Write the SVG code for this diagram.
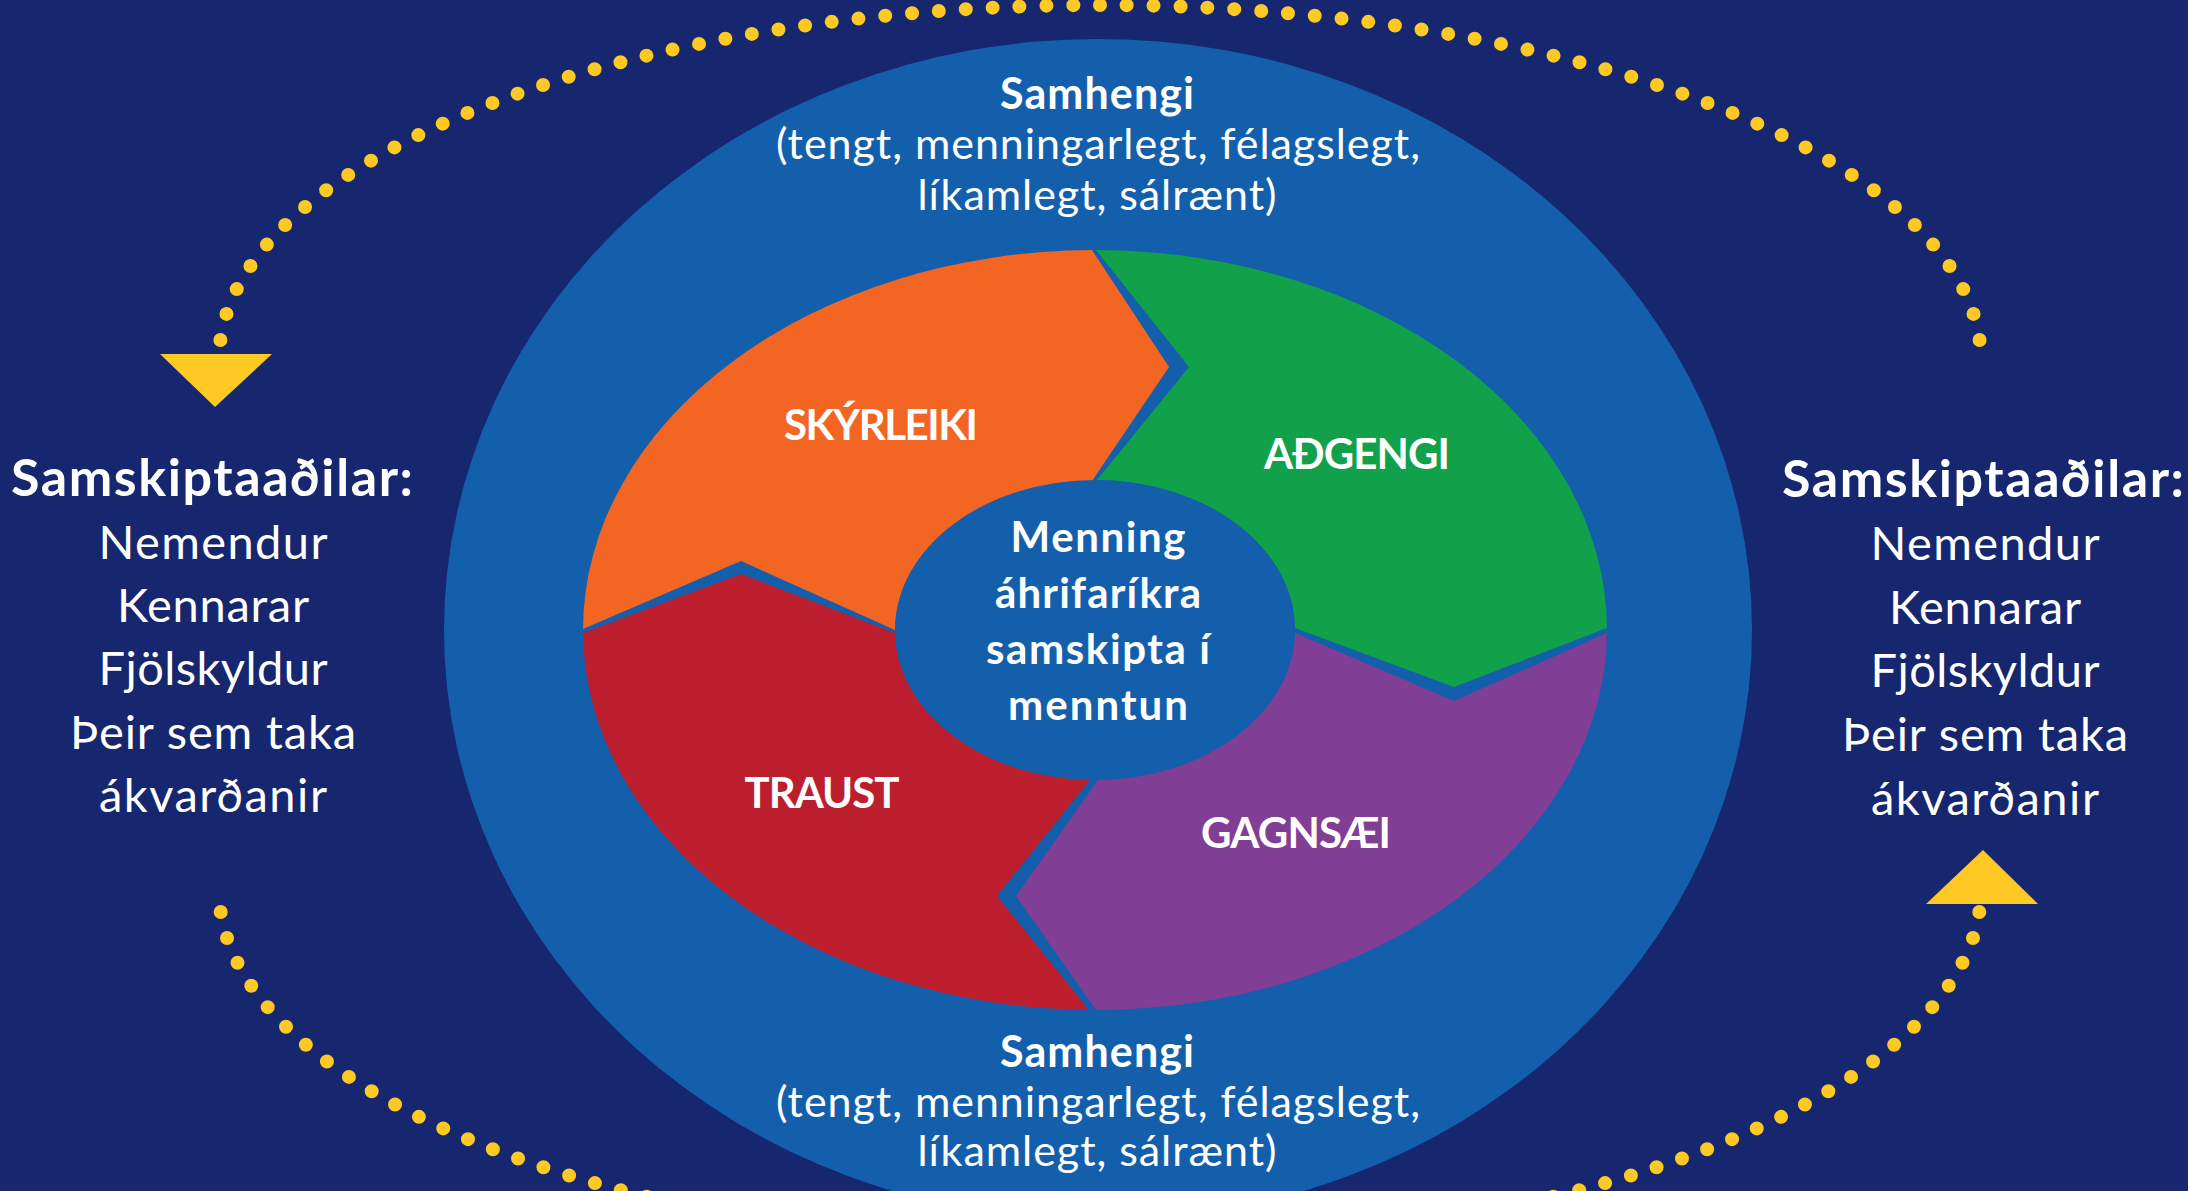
<svg xmlns="http://www.w3.org/2000/svg" width="2188" height="1191" viewBox="0 0 2188 1191">
<style>
  text { font-family: Lato, "Open Sans", "Liberation Sans", sans-serif; fill: #ffffff; text-anchor: middle; }
  .ctxb { font-size: 43px; font-weight: 700; }
  .ctx { font-size: 43px; font-weight: 400; }
  .lbl { font-size: 42px; font-weight: 700; }
  .ctr { font-size: 42px; font-weight: 700; }
  .ph { font-size: 52px; font-weight: 700; }
  .pl { font-size: 47px; font-weight: 400; }
  .dots { fill: none; stroke: #FEC923; stroke-width: 14; stroke-linecap: round; stroke-dasharray: 0 1; }
  .tri { fill: #FEC923; }
  .blue { fill: #145FAC; }
</style>
<rect x="0" y="0" width="2188" height="1191" fill="#162770"/>

<g id="connectors">
  <path class="dots" pathLength="74" d="M 1979.6,340 A 881 355 0 0 0 220.4,340"/>
  <polygon class="tri" points="160,354 272,354 215,407"/>
  <path class="dots" pathLength="74" d="M 220.7,912 A 881 358 0 0 0 1979.3,912"/>
  <polygon class="tri" points="1926,904 2038,904 1983,850"/>
</g>

<g id="context">
  <ellipse class="blue" cx="1098" cy="630" rx="654" ry="591"/>
  <text class="ctxb" x="1097" y="109" textLength="194">Samhengi</text>
  <text class="ctx" x="1098" y="159" textLength="644">(tengt, menningarlegt, félagslegt,</text>
  <text class="ctx" x="1097" y="210" textLength="359">líkamlegt, sálrænt)</text>
  <text class="ctxb" x="1097" y="1067" textLength="194">Samhengi</text>
  <text class="ctx" x="1098" y="1117" textLength="644">(tengt, menningarlegt, félagslegt,</text>
  <text class="ctx" x="1097" y="1166" textLength="359">líkamlegt, sálrænt)</text>
</g>

<g id="seg-skyrleiki">
  <path fill="#F26522" d="M 583,629 A 512 380 0 0 1 1092,250 L 1169,367 L 1092,481 A 200 150 0 0 0 895,630 L 741,561 Z"/>
  <text class="lbl" x="881" y="440" textLength="194">SKÝRLEIKI</text>
</g>

<g id="seg-adgengi">
  <path fill="#10A14A" d="M 1096,250 A 512 380 0 0 1 1607,628 L 1454,687 L 1295,628 A 200 150 0 0 0 1097,480 L 1189,367 Z"/>
  <text class="lbl" x="1357" y="469" textLength="186">AÐGENGI</text>
</g>

<g id="seg-gagnsaei">
  <path fill="#803E94" d="M 1607,633 A 512 380 0 0 1 1096,1010 L 1016,896 L 1098,780 A 200 150 0 0 0 1295,633 L 1454,701 Z"/>
  <text class="lbl" x="1296" y="848" textLength="190">GAGNSÆI</text>
</g>

<g id="seg-traust">
  <path fill="#BC1E2D" d="M 1089,1010 A 512 380 0 0 1 583,633 L 741,574 L 895,633 A 200 150 0 0 0 1090,780 L 997,896 Z"/>
  <text class="lbl" x="822" y="808" textLength="155">TRAUST</text>
</g>

<g id="center">
  <ellipse class="blue" cx="1095" cy="630" rx="200" ry="150"/>
  <text class="ctr" x="1098" y="552" textLength="175">Menning</text>
  <text class="ctr" x="1098" y="608" textLength="206">áhrifaríkra</text>
  <text class="ctr" x="1098" y="664" textLength="224">samskipta í</text>
  <text class="ctr" x="1098" y="720" textLength="180">menntun</text>
</g>

<g id="participants-left">
  <text class="ph" x="212" y="496" textLength="402">Samskiptaaðilar:</text>
  <text class="pl" x="213" y="559" textLength="229">Nemendur</text>
  <text class="pl" x="213" y="622" textLength="192">Kennarar</text>
  <text class="pl" x="213" y="685" textLength="229">Fjölskyldur</text>
  <text class="pl" x="213" y="749" textLength="286">Þeir sem taka</text>
  <text class="pl" x="213" y="812" textLength="228">ákvarðanir</text>
</g>

<g id="participants-right">
  <text class="ph" x="1983" y="497" textLength="402">Samskiptaaðilar:</text>
  <text class="pl" x="1985" y="560" textLength="229">Nemendur</text>
  <text class="pl" x="1985" y="624" textLength="192">Kennarar</text>
  <text class="pl" x="1985" y="687" textLength="229">Fjölskyldur</text>
  <text class="pl" x="1985" y="751" textLength="286">Þeir sem taka</text>
  <text class="pl" x="1985" y="815" textLength="228">ákvarðanir</text>
</g>
</svg>
